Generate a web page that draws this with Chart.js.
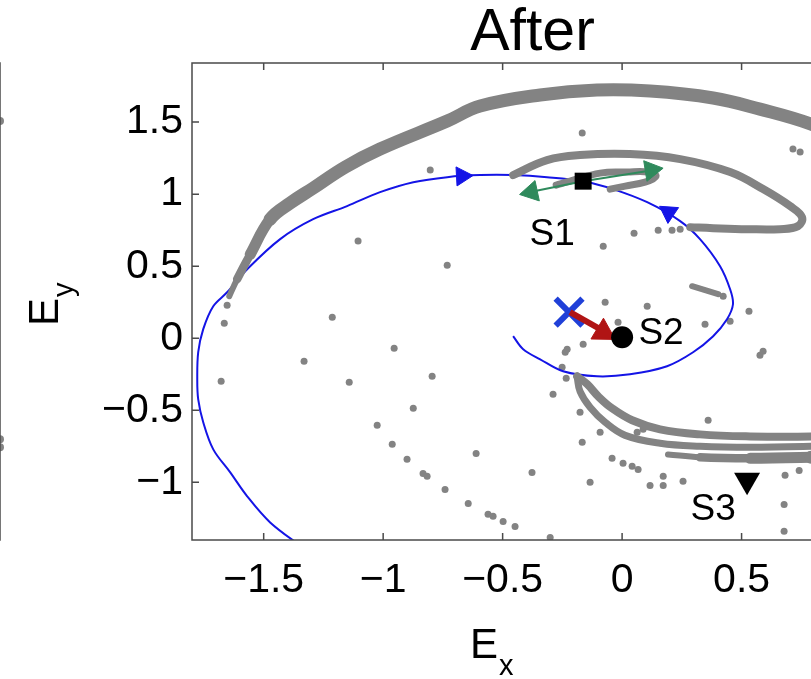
<!DOCTYPE html>
<html>
<head>
<meta charset="utf-8">
<title>After - phase portrait</title>
<script src="https://cdn.jsdelivr.net/npm/chart.js@4.4.0/dist/chart.umd.min.js"></script>
<style>
  html, body { margin: 0; padding: 0; background: #fff; overflow: hidden; width: 811px; height: 679px; }
  #side-wrap { position: absolute; left: -300px; top: 0; width: 304px; height: 679px; }
  #main-wrap { position: absolute; left: 0; top: 0; width: 900px; height: 679px; }
</style>
</head>
<body>
<div id="side-wrap"><canvas id="side-chart"></canvas></div>
<div id="main-wrap"><canvas id="phase-chart"></canvas></div>
<script>
// Axis ticks
const xTicks = [-1.5, -1, -0.5, 0, 0.5, 1];
const yTicks = [-1, -0.5, 0, 0.5, 1, 1.5];

// Blue trajectory (stable manifold of S1)
const manifoldX = [-1.33, -1.473, -1.569, -1.640, -1.711, -1.753, -1.774, -1.778, -1.774, -1.753, -1.711, -1.653,
  -1.569, -1.431, -1.293, -1.151, -1.013, -0.874, -0.732, -0.594, -0.456, -0.314, -0.163, -0.038, 0.105, 0.243,
  0.326, 0.410, 0.452, 0.464, 0.439, 0.381, 0.297, 0.188, 0.033, -0.105, -0.247, -0.343, -0.414, -0.456];
const manifoldY = [-1.46, -1.278, -1.097, -0.931, -0.771, -0.583, -0.424, -0.285, -0.097, 0.063, 0.222, 0.319,
  0.479, 0.688, 0.826, 0.917, 1.014, 1.083, 1.118, 1.132, 1.132, 1.118, 1.090, 1.035, 0.944, 0.813,
  0.688, 0.500, 0.340, 0.236, 0.132, 0.014, -0.097, -0.194, -0.250, -0.264, -0.229, -0.146, -0.076, 0.014];

// Gray attractor bands
const outerBandX = [-1.644, -1.611, -1.556, -1.473, -1.389, -1.293, -1.159, -1.013, -0.732, -0.594, -0.343, -0.105,
  0.117, 0.381, 0.577, 0.791, 1.038];
const outerBandY = [0.292, 0.410, 0.583, 0.826, 0.938, 1.042, 1.188, 1.313, 1.507, 1.611, 1.688, 1.722,
  1.715, 1.667, 1.590, 1.486, 1.313];
const innerBandX = [-0.456, -0.314, -0.176, 0.033, 0.243, 0.452, 0.590, 0.703, 0.753, 0.736, 0.661, 0.523, 0.381, 0.285];
const innerBandY = [1.132, 1.236, 1.271, 1.278, 1.243, 1.153, 1.035, 0.917, 0.840, 0.778, 0.757, 0.757, 0.764, 0.771];
const loopX = [-0.276, -0.218, -0.092, 0.021, 0.109, 0.142, 0.096, 0.013, -0.050];
const loopY = [1.063, 1.090, 1.146, 1.153, 1.153, 1.125, 1.083, 1.056, 1.035];
const upperArcX = [-0.188, -0.146, -0.100, -0.042, 0.042, 0.159, 0.326, 0.536, 0.791, 1.038];
const upperArcY = [-0.264, -0.319, -0.403, -0.486, -0.569, -0.632, -0.667, -0.681, -0.681, -0.660];
const lowerArcX = [-0.188, -0.176, -0.134, -0.071, 0.013, 0.159, 0.326, 0.536, 0.791, 1.038];
const lowerArcY = [-0.271, -0.368, -0.479, -0.583, -0.674, -0.729, -0.750, -0.757, -0.750, -0.736];
const thickArcX = [0.192, 0.326, 0.536, 0.791, 1.038];
const thickArcY = [-0.806, -0.826, -0.833, -0.826, -0.813];
const stubX = [0.293, 0.402];
const stubY = [0.361, 0.306];

// Scattered gray points
const dotsX = [-0.803, -1.105, -0.732, -0.167, 0.715, 0.745, 0.050, -0.079, 0.151, 0.209, 0.243, 0.423,
  -0.071, 0.105, 0.531, 0.347, 0.452, -0.017, -0.230, -0.238, -0.163, -0.251, -0.234, -0.289,
  -0.167, -0.377, -0.042, 0.004, 0.042, 0.067, -0.134, 0.117, 0.172, 0.172, 0.255, 0.360,
  0.577, 0.590, 0.682, 0.741, 0.678, 0.678, -0.561, -0.498, -0.448, -0.301, -1.653, -1.665,
  -1.678, -1.213, -1.331, -1.142, -0.954, -0.795, -0.874, -1.025, -0.962, -0.900, -0.611, -0.833,
  -0.816, -0.741, -0.644, -0.540, -0.176, -0.092, 0.063, 0.088];
const dotsY = [1.167, 0.674, 0.507, 1.424, 1.313, 1.292, 0.729, 0.639, 0.750, 0.750, 0.757, 0.292,
  0.250, 0.222, 0.188, 0.097, 0.118, 0.111, -0.076, -0.097, -0.042, -0.201, -0.278, -0.389,
  -0.722, -0.931, -0.833, -0.868, -0.889, -0.910, -1.000, -1.021, -0.958, -1.021, -0.993, -0.569,
  -0.118, -0.090, -0.951, -0.917, -1.153, -1.340, -1.222, -1.271, -1.306, -1.382, 0.229, 0.104,
  -0.299, 0.146, -0.160, -0.306, -0.069, -0.264, -0.486, -0.604, -0.736, -0.840, -0.799, -0.938,
  -0.958, -1.049, -1.146, -1.236, -0.514, -0.653, -0.653, -0.632];

// Fixed points and start marker
const stateNames = ['S1', 'S2', 'S3'];
const stateX = [-0.163, 0.0, 0.523];
const stateY = [1.090, 0.007, -0.986];
const startX = [-0.222];
const startY = [0.181];

// Arrows
const blueHeadX = [-0.670, 0.195];
const blueHeadY = [1.125, 0.873];
const greenLineX = [-0.40, -0.163, 0.14];
const greenLineY = [1.01, 1.090, 1.17];
const greenHeadX = [-0.380, 0.122];
const greenHeadY = [1.015, 1.167];
const redShaftX = [-0.218, -0.092];
const redShaftY = [0.181, 0.063];
const redHeadX = [-0.079];
const redHeadY = [0.042];

// Left neighbour panel (only its right edge shows)
const sideDotsX = [1, 1, 1];
const sideDotsY = [1.507, -0.701, -0.757];

const FONT = "'Liberation Sans', Arial, Helvetica, sans-serif";
const GRAY = '#838383';
const BLUE = '#1414e6';
const GREEN = '#2f8a5c';
const RED = '#b01414';

const pts = (xs, ys) => xs.map((x, i) => ({ x: x, y: ys[i] }));
const fmtTick = (v) => (v < 0 ? '\u2212' + String(-v) : String(v));

// Box round the plot with inward ticks, MATLAB style
const frameTicks = {
  id: 'frameTicks',
  afterDatasetsDraw(chart, args, opts) {
    const { ctx, chartArea: a, scales } = chart;
    const len = 7;
    ctx.save();
    ctx.strokeStyle = '#4a4a4a';
    ctx.lineWidth = 1.5;
    ctx.strokeRect(a.left, a.top, a.right - a.left, a.bottom - a.top);
    ctx.beginPath();
    if (opts.showX !== false) {
      xTicks.forEach((v) => {
        const px = scales.x.getPixelForValue(v);
        ctx.moveTo(px, a.bottom); ctx.lineTo(px, a.bottom - len);
        ctx.moveTo(px, a.top); ctx.lineTo(px, a.top + len);
      });
    }
    yTicks.forEach((v) => {
      const py = scales.y.getPixelForValue(v);
      ctx.moveTo(a.left, py); ctx.lineTo(a.left + len, py);
      ctx.moveTo(a.right, py); ctx.lineTo(a.right - len, py);
    });
    ctx.stroke();
    ctx.restore();
  }
};

// S1 / S2 / S3 labels, placed in data coordinates
const stateLabels = {
  id: 'stateLabels',
  afterDatasetsDraw(chart) {
    const { ctx, scales: { x, y } } = chart;
    const labelX = [-0.293, 0.163, 0.381];
    const labelY = [0.715, 0.028, -1.188];
    ctx.save();
    ctx.font = `37px ${FONT}`;
    ctx.fillStyle = '#000';
    ctx.textAlign = 'center';
    ctx.textBaseline = 'middle';
    stateNames.forEach((name, i) => {
      ctx.fillText(name, x.getPixelForValue(labelX[i]), y.getPixelForValue(labelY[i]));
    });
    ctx.restore();
  }
};

// E_x and E_y with real subscripts
const axisTitles = {
  id: 'axisTitles',
  afterDraw(chart) {
    const { ctx } = chart;
    ctx.save();
    ctx.fillStyle = '#000';
    ctx.textAlign = 'left';
    ctx.textBaseline = 'alphabetic';
    ctx.font = `42px ${FONT}`;
    const w = ctx.measureText('E').width;
    ctx.fillText('E', 470, 658);
    ctx.font = `29px ${FONT}`;
    ctx.fillText('x', 470 + w + 1, 675);

    ctx.translate(58, 326);
    ctx.rotate(-Math.PI / 2);
    ctx.font = `42px ${FONT}`;
    ctx.fillText('E', 0, 0);
    ctx.font = `29px ${FONT}`;
    ctx.fillText('y', w + 1, 15);
    ctx.restore();
  }
};

const band = (xs, ys, width, taper) => ({
  data: pts(xs, ys),
  showLine: true,
  borderColor: GRAY,
  borderWidth: width,
  borderCapStyle: 'round',
  borderJoinStyle: 'round',
  pointRadius: 0,
  tension: 0.4,
  segment: taper ? { borderWidth: (ctx) => Math.min(width, taper + ctx.p0DataIndex * 2.5) } : undefined
});

const head = (xs, ys, color, radius, rotation) => ({
  data: pts(xs, ys),
  pointStyle: 'triangle',
  pointRadius: radius,
  backgroundColor: color,
  borderColor: color,
  borderWidth: 1,
  rotation: rotation
});

const datasets = [
  { data: pts([stateX[0]], [stateY[0]]), pointStyle: 'rect', pointRadius: 12, backgroundColor: '#000', borderWidth: 0 },
  { data: pts([stateX[1]], [stateY[1]]), pointStyle: 'circle', pointRadius: 11, backgroundColor: '#000', borderWidth: 0 },
  { data: pts([stateX[2]], [stateY[2]]), pointStyle: 'triangle', pointRadius: 15, rotation: 180, backgroundColor: '#000', borderWidth: 0 },
  head(redHeadX, redHeadY, RED, 14, 121),
  { data: pts(redShaftX, redShaftY), showLine: true, borderColor: RED, borderWidth: 6, pointRadius: 0 },
  { data: pts(startX, startY), pointStyle: 'crossRot', pointRadius: 19, borderColor: '#2040d8', borderWidth: 6 },
  head(greenHeadX, greenHeadY, GREEN, 12, [258, 81]),
  { data: pts(greenLineX, greenLineY), showLine: true, borderColor: GREEN, borderWidth: 2, pointRadius: 0 },
  head(blueHeadX, blueHeadY, BLUE, 11, [87, -56]),
  band(loopX, loopY, 7),
  band(innerBandX, innerBandY, 8),
  band(outerBandX, outerBandY, 13, 6),
  band(upperArcX, upperArcY, 8),
  band(lowerArcX, lowerArcY, 7),
  band(thickArcX, thickArcY, 13, 6),
  band(stubX, stubY, 6),
  { data: pts(manifoldX, manifoldY), showLine: true, borderColor: BLUE, borderWidth: 2, pointRadius: 0, tension: 0.35 },
  { data: pts(dotsX, dotsY), pointRadius: 3.5, backgroundColor: GRAY, borderWidth: 0 }
];

const tickFont = { family: FONT, size: 41 };

new Chart(document.getElementById('phase-chart'), {
  type: 'scatter',
  data: { datasets: datasets },
  options: {
    responsive: true,
    maintainAspectRatio: false,
    animation: false,
    devicePixelRatio: 1,
    events: [],
    layout: { padding: { left: 0, right: 27, top: 0, bottom: 0 } },
    plugins: {
      legend: { display: false },
      tooltip: { enabled: false },
      title: {
        display: true,
        text: 'After',
        fullSize: false,
        color: '#000',
        font: { family: FONT, size: 59, weight: 'normal', lineHeight: 1 },
        padding: { top: 4, bottom: 0 }
      },
      frameTicks: { showX: true }
    },
    scales: {
      x: {
        type: 'linear',
        min: -1.8,
        max: 1.05,
        afterBuildTicks: (scale) => { scale.ticks = xTicks.map((v) => ({ value: v })); },
        afterFit: (scale) => { scale.height = 139; },
        ticks: { color: '#000', font: tickFont, padding: 16, maxRotation: 0, autoSkip: false, callback: fmtTick },
        grid: { display: false, drawTicks: false },
        border: { display: false }
      },
      y: {
        type: 'linear',
        min: -1.4,
        max: 1.91,
        afterBuildTicks: (scale) => { scale.ticks = yTicks.map((v) => ({ value: v })); },
        afterFit: (scale) => { scale.width = 192; },
        ticks: { color: '#000', font: tickFont, padding: 9, autoSkip: false, callback: fmtTick },
        grid: { display: false, drawTicks: false },
        border: { display: false }
      }
    }
  },
  plugins: [frameTicks, stateLabels, axisTitles]
});

new Chart(document.getElementById('side-chart'), {
  type: 'scatter',
  data: {
    datasets: [{ data: pts(sideDotsX, sideDotsY), pointRadius: 4, backgroundColor: GRAY, borderWidth: 0, clip: false }]
  },
  options: {
    responsive: true,
    maintainAspectRatio: false,
    animation: false,
    devicePixelRatio: 1,
    events: [],
    layout: { padding: { left: 0, right: 0, top: 63, bottom: 139 } },
    plugins: { legend: { display: false }, tooltip: { enabled: false }, frameTicks: { showX: false } },
    scales: {
      x: { type: 'linear', min: 0, max: 1, display: false },
      y: { type: 'linear', min: -1.4, max: 1.91, display: false }
    }
  },
  plugins: [frameTicks]
});
</script>
</body>
</html>
